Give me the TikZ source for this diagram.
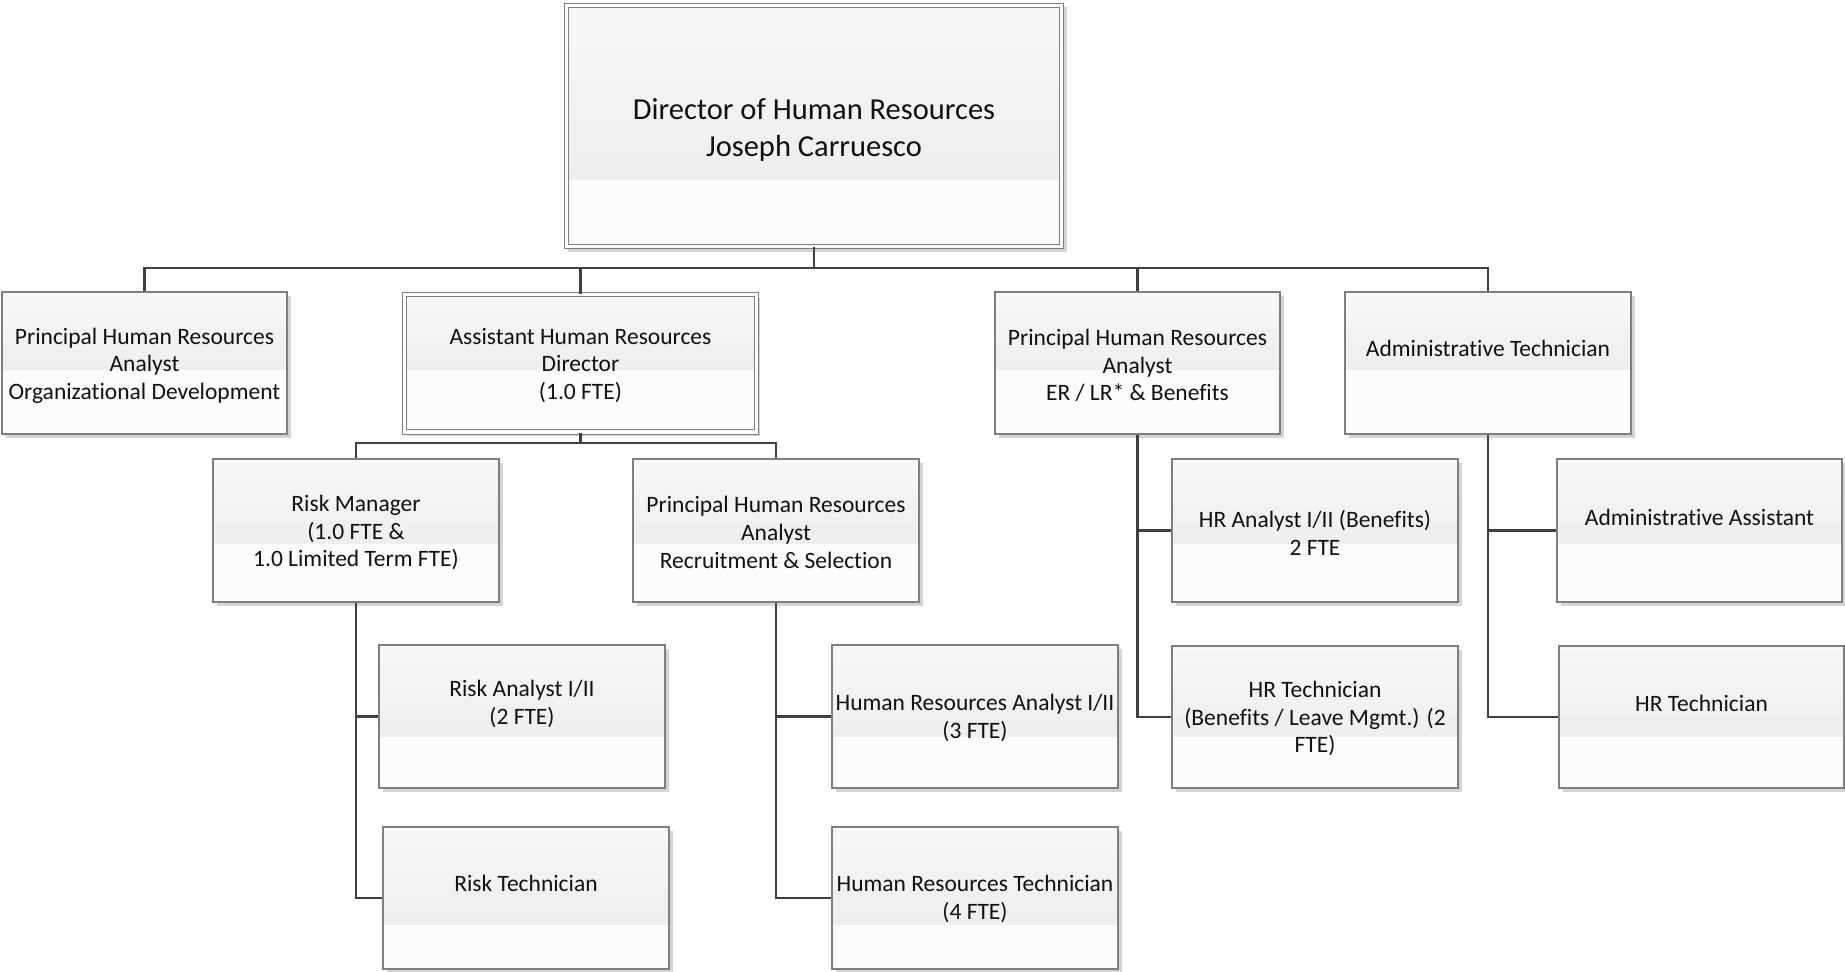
\documentclass[tikz,border=0pt]{standalone}
\usepackage{fontspec}
\setmainfont{Carlito}[RawFeature={-liga;-clig;-calt;-dlig}]
\definecolor{bordc}{HTML}{7F7F7F}
\definecolor{linec}{HTML}{404040}
\definecolor{bandtop}{HTML}{F8F8F8}
\definecolor{bandbot}{HTML}{EEEEEE}
\definecolor{lowc}{HTML}{FCFCFC}
\definecolor{shadc}{HTML}{D4D4D4}
\definecolor{txtc}{HTML}{111111}
\tikzset{
  single/.style={draw=bordc, line width=1.2pt},
  double2/.style={draw=bordc, line width=1.1pt, double=white, double distance=3.4pt},
  conn/.style={draw=linec, line width=2.4pt},
  txt/.style={align=center, inner sep=0pt, text=txtc, font=\fontsize{23.5}{27.6}\selectfont},
  bigtxt/.style={align=center, inner sep=0pt, text=txtc, font=\fontsize{30.5}{37.5}\selectfont},
}
% #1 style, #2 name, #3 x1, #4 y1, #5 x2, #6 y2, #7 band y, #8 text y, #9 text
\newcommand\obox[9]{%
  \fill[shadc] (#3+3.5,#4+3.5) rectangle (#5+3.5,#6+3.5);
  \shade[top color=bandtop, bottom color=bandbot] (#3,#4) rectangle (#5,#7);
  \fill[lowc] (#3,#7) rectangle (#5,#6);
  \node[#1, inner sep=0pt, minimum width={#5-#3}, minimum height={#6-#4}] (#2) at ({(#3+#5)/2},{(#4+#6)/2}) {};
  \node[txt] (#2t) at ({(#3+#5)/2},#8) {#9};
}
\begin{document}
\begin{tikzpicture}[x=1pt,y=-1pt]
\useasboundingbox[fill=white] (0,0) rectangle (1845,972);

% director
\fill[shadc] (567.5,6.5) rectangle (1067,252);
\shade[top color=bandtop, bottom color=bandbot] (566.5,5.5) rectangle (1061.5,180);
\fill[lowc] (566.5,180) rectangle (1061.5,246.5);
\node[double2, inner sep=0pt, minimum width=495pt, minimum height=241pt] (dir) at (814,126) {};
\node[bigtxt] (dirt) at (814,130) {Director of Human Resources\\Joseph Carruesco};

\obox{single}{od}{2}{292}{287}{434}{370}{365.5}{Principal Human Resources\\Analyst\\Organizational Development}
\obox{double2}{ahrd}{404.5}{294.5}{756.5}{432}{370}{365.5}{Assistant Human Resources\\Director\\(1.0 FTE)}
\obox{single}{er}{995}{292}{1280}{434}{370}{365.5}{Principal Human Resources\\Analyst\\ER / LR* \& Benefits}
\obox{single}{at}{1345}{292}{1631}{434}{370}{348.5}{Administrative Technician}

\obox{single}{rm}{213}{459}{499}{602}{544}{532.5}{Risk Manager\\(1.0 FTE \&\\1.0 Limited Term FTE)}
\obox{single}{rs}{633}{459}{919}{602}{544}{532.5}{Principal Human Resources\\Analyst\\Recruitment \& Selection}
\obox{single}{hab}{1172}{459}{1458}{602}{544}{533}{HR Analyst I/II (Benefits)\\2 FTE}
\obox{single}{aa}{1557}{459}{1842}{602}{544}{517}{Administrative Assistant}

\obox{single}{ra}{379}{645}{665}{788}{737}{704}{Risk Analyst I/II\\(2 FTE)}
\obox{single}{hra}{832}{645}{1118}{788}{737}{718}{Human Resources Analyst I/II\\(3 FTE)}
\obox{single}{htb}{1172}{646}{1458}{788}{737}{718.5}{HR Technician\\(Benefits / Leave Mgmt.) (2\\FTE)}
\obox{single}{ht}{1559}{646}{1844}{788}{737}{703.5}{HR Technician}

\obox{single}{rt}{383}{827}{669}{969}{925}{883.5}{Risk Technician}
\obox{single}{hrt}{832}{827}{1118}{969}{925}{899}{Human Resources Technician\\(4 FTE)}

% connectors
\coordinate (bus) at (814,268);
\draw[conn] (dir.south) -- (bus);
\draw[conn] (bus) -| (od.north);
\draw[conn] (bus) -| (ahrd.north);
\draw[conn] (bus) -| (er.north);
\draw[conn] (bus) -| (at.north);

\coordinate (bus2) at (580.5,443);
\draw[conn] (ahrd.south) -- (bus2);
\draw[conn] (bus2) -| (rm.north);
\draw[conn] (bus2) -| (rs.north);

\draw[conn] (rm.south) |- (ra.west);
\draw[conn] (rm.south) |- (rt.west);
\draw[conn] (rs.south) |- (hra.west);
\draw[conn] (rs.south) |- (hrt.west);
\draw[conn] (er.south) |- (hab.west);
\draw[conn] (er.south) |- (htb.west);
\draw[conn] (at.south) |- (aa.west);
\draw[conn] (at.south) |- (ht.west);
\end{tikzpicture}
\end{document}
